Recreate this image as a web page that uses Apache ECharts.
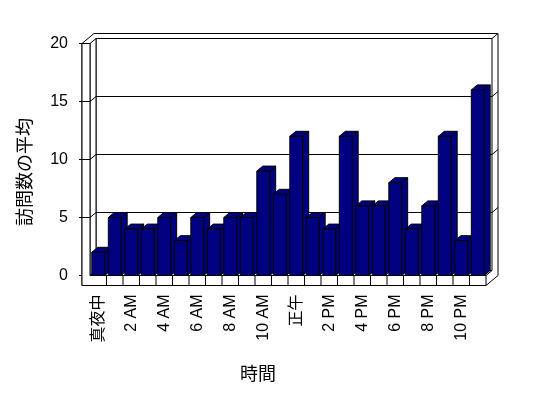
<!DOCTYPE html>
<html>
<head>
<meta charset="utf-8">
<script src="https://cdn.jsdelivr.net/npm/echarts@6/dist/echarts.min.js"></script>
<style>
  html, body { margin: 0; padding: 0; background: #fff; }
  #chart { width: 548px; height: 398px; }
</style>
</head>
<body>
<div id="chart"></div>
<script>
const hours = ['真夜中', '1 AM', '2 AM', '3 AM', '4 AM', '5 AM', '6 AM', '7 AM', '8 AM', '9 AM', '10 AM', '11 AM',
  '正午', '1 PM', '2 PM', '3 PM', '4 PM', '5 PM', '6 PM', '7 PM', '8 PM', '9 PM', '10 PM', '11 PM']
const visits = [2, 5, 4, 4, 5, 3, 5, 4, 5, 5, 9, 7, 12, 5, 4, 12, 6, 6, 8, 4, 6, 12, 3, 16]
const yTicks = [0, 5, 10, 15, 20]

const DX = 6 // depth of the 3d box
const DY = -5
const WALL = 8 // wall / floor thickness
const FLOOR = 10
const NAVY = '#000080'
const FONT = '"Liberation Sans", "Noto Sans CJK JP", sans-serif'

const myChart = echarts.init(document.getElementById('chart'))

function pline(points) {
  return { type: 'polyline', shape: { points: points }, style: { stroke: '#000', lineWidth: 1, fill: null } }
}
function pgon(points, fill) {
  return { type: 'polygon', shape: { points: points }, style: { stroke: '#000', lineWidth: 1, fill: fill } }
}

// walls, floor and gridlines
function renderFrame(params, api) {
  const bw = api.size([1, 0])[0]
  const left = api.coord([0, 0])[0] - bw / 2
  const right = api.coord([hours.length - 1, 0])[0] + bw / 2
  const y0 = api.coord([0, yTicks[0]])[1]
  const yTop = api.coord([0, yTicks[yTicks.length - 1]])[1]
  const children = []
  // outer silhouette (top of back wall + right side)
  children.push(pgon([
    [left - WALL, yTop], [left - WALL + 2 * DX, yTop + 2 * DY], [right + 2 * DX, yTop + 2 * DY],
    [right + 2 * DX, y0 + FLOOR + 2 * DY], [right, y0 + FLOOR], [left - WALL, y0 + FLOOR]
  ], '#fff'))
  // back wall inner face
  children.push(pgon([
    [left + DX, yTop + DY], [right + DX, yTop + DY], [right + DX, y0 + DY], [left + DX, y0 + DY]
  ], '#fff'))
  // left wall inner face
  children.push(pgon([[left, yTop], [left + DX, yTop + DY], [left + DX, y0 + DY], [left, y0]], '#fff'))
  // floor top
  children.push(pgon([[left, y0], [left + DX, y0 + DY], [right + DX, y0 + DY], [right, y0]], '#fff'))
  // left wall front + floor front
  children.push(pgon([
    [left - WALL, yTop], [left, yTop], [left, y0], [right, y0], [right, y0 + FLOOR], [left - WALL, y0 + FLOOR]
  ], '#fff'))
  children.push(pline([[right + DX, yTop + DY], [right + 2 * DX, yTop + 2 * DY]]))
  // gridlines wrapping round the walls
  yTicks.forEach(function(v) {
    const y = api.coord([0, v])[1]
    children.push(pline([[left - WALL - 3, y], [left - WALL, y]]))
    if (v !== yTicks[0] && v !== yTicks[yTicks.length - 1]) {
      children.push(pline([[left - WALL, y], [left, y], [left + DX, y + DY], [right + DX, y + DY], [right + 2 * DX, y + 2 * DY]]))
    }
  })
  // category ticks on the floor front
  for (let k = 1; k < hours.length; k++) {
    const x = left + k * bw
    children.push(pline([[x, y0], [x, y0 + FLOOR]]))
  }
  return { type: 'group', children: children }
}

function renderBar(params, api) {
  const idx = api.value(0)
  const top = api.coord([idx, api.value(1)])
  const base = api.coord([idx, 0])
  const w = api.size([1, 0])[0] * 0.78
  const x1 = top[0] - w / 2
  const x2 = top[0] + w / 2
  return {
    type: 'group',
    children: [
      pgon([[x2, top[1]], [x2 + DX, top[1] + DY], [x2 + DX, base[1] + DY], [x2, base[1]]], NAVY),
      pgon([[x1, top[1]], [x1 + DX, top[1] + DY], [x2 + DX, top[1] + DY], [x2, top[1]]], NAVY),
      pgon([[x1, top[1]], [x2, top[1]], [x2, base[1]], [x1, base[1]]], NAVY)
    ]
  }
}

const option = {
  backgroundColor: '#fff',
  animation: false,
  title: {
    text: '時間',
    left: 240,
    top: 366,
    padding: 0,
    textStyle: { fontSize: 18, fontWeight: 'normal', color: '#000', fontFamily: FONT }
  },
  grid: { left: 90, top: 43.5, width: 396, height: 232 },
  xAxis: {
    type: 'category',
    data: hours,
    axisLine: { show: false },
    axisTick: { show: false },
    axisLabel: {
      interval: 1,
      rotate: 90,
      margin: 19,
      color: '#000',
      fontSize: 16,
      fontFamily: FONT
    }
  },
  yAxis: {
    type: 'value',
    min: yTicks[0],
    max: yTicks[yTicks.length - 1],
    interval: yTicks[1] - yTicks[0],
    name: '訪問数の平均',
    nameLocation: 'middle',
    nameRotate: 90,
    nameGap: 55,
    nameTextStyle: { fontSize: 18, color: '#000', fontFamily: FONT, padding: [0, 25, 0, 0] },
    axisLine: { show: false },
    axisTick: { show: false },
    splitLine: { show: false },
    axisLabel: { margin: 22, color: '#000', fontSize: 16, fontFamily: FONT }
  },
  series: [
    {
      type: 'custom',
      silent: true,
      z: 1,
      clip: false,
      renderItem: renderFrame,
      data: [[0, 0]]
    },
    {
      type: 'custom',
      z: 2,
      clip: false,
      renderItem: renderBar,
      encode: { x: 0, y: 1 },
      data: visits.map(function(v, i) { return [i, v] })
    }
  ]
}
myChart.setOption(option)
</script>
</body>
</html>
